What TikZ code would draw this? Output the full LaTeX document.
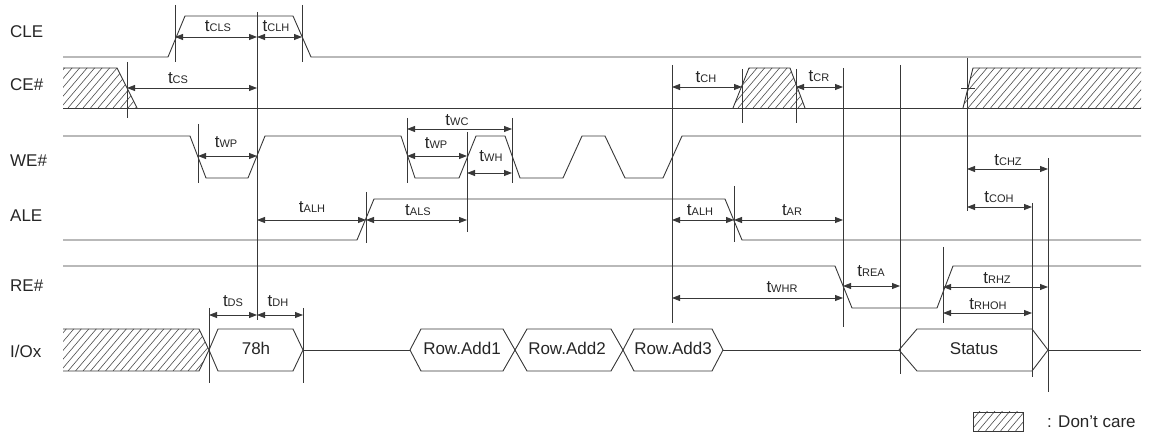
\documentclass[tikz,border=0pt]{standalone}
\usepackage{fontspec}
\setmainfont{Liberation Sans}
\usetikzlibrary{arrows.meta}
\newcommand\tsub[1]{{\fontsize{17}{17}\selectfont t}{\fontsize{11}{11}\selectfont #1}}
\newcommand\hatchregion[4]{%
  \begin{scope}
    \clip #1;
    \foreach \k in {0,...,#3} \draw[hatchline] ({#2-40+7.5*\k},#4) -- ++(40,-47);
  \end{scope}}
\begin{document}
\begin{tikzpicture}[x=1pt,y=-1pt,
  sig/.style={line width=0.9pt,draw=black!78,line join=round},
  vmark/.style={line width=0.8pt,draw=black!78},
  dimarrow/.style={line width=0.8pt,draw=black!78,{Triangle[length=8pt,width=6pt]}-{Triangle[length=8pt,width=6pt]}},
  hatchline/.style={line width=0.6pt,draw=black!70},
  tlab/.style={anchor=base,inner sep=0pt,text=black!85},
  siglab/.style={anchor=base west,inner sep=0pt,font=\fontsize{17}{17}\selectfont,text=black!85},
  datalab/.style={anchor=base,inner sep=0pt,font=\fontsize{17}{17}\selectfont,text=black!85}]

\useasboundingbox (0,0) rectangle (1149,435);

% signal names
\node[siglab] (nCLE) at (10,38) {CLE};
\node[siglab] (nCE) at (10,91) {CE\#};
\node[siglab] (nWE) at (10,167) {WE\#};
\node[siglab] (nALE) at (10,222) {ALE};
\node[siglab] (nRE) at (10,292) {RE\#};
\node[siglab] (nIO) at (10,358) {I/Ox};

% hatch regions
\hatchregion{(63,68)--(117,68)--(137,108)--(63,108)--cycle}{63}{16}{108}
\hatchregion{(733,108)--(749,68)--(790,68)--(805,108)--cycle}{733}{15}{108}
\hatchregion{(963,108)--(973,68)--(1141,68)--(1141,108)--cycle}{963}{29}{108}
\hatchregion{(63,329)--(199,329)--(209,350)--(199,371)--(63,371)--cycle}{63}{25}{371}
\hatchregion{(973,412)--(1023,412)--(1023,431)--(973,431)--cycle}{973}{12}{431}

% CLE
\draw[sig] (63,57) -- (168,57) -- (185,16) -- (293,16) -- (311,57) -- (1141,57);
% CE#
\draw[sig] (63,68) -- (117,68) -- (137,108);
\draw[sig] (63,108) -- (1141,108);
\draw[sig] (733,108) -- (749,68) -- (790,68) -- (805,108);
\draw[sig] (963,108) -- (973,68) -- (1141,68);
\draw[vmark] (961,88) -- (975,88);
% WE#
\draw[sig] (63,136) -- (190,136) -- (206,178) -- (248,178) -- (265,136) -- (401,136)
  -- (415,178) -- (459,178) -- (476,136) -- (505,136) -- (520,178) -- (563,178)
  -- (582,136) -- (605,136) -- (625,178) -- (663,178) -- (682,136) -- (1141,136);
% ALE
\draw[sig] (63,240) -- (357,240) -- (374,199) -- (725,199) -- (742,240) -- (1141,240);
% RE#
\draw[sig] (63,266) -- (835,266) -- (852,308) -- (937,308) -- (953,266) -- (1141,266);
% I/Ox
\draw[sig] (63,329) -- (199,329) -- (209,350) -- (199,371) -- (63,371);
\draw[sig] (209,350) -- (218,329) -- (293,329) -- (303,350) -- (293,371) -- (218,371) -- cycle;
\draw[sig] (303,350) -- (410,350);
\draw[sig] (410,350) -- (421,329) -- (503,329) -- (515,350) -- (503,371) -- (421,371) -- cycle;
\draw[sig] (515,350) -- (527,329) -- (611,329) -- (623,350) -- (611,371) -- (527,371) -- cycle;
\draw[sig] (623,350) -- (634,329) -- (712,329) -- (723,350) -- (712,371) -- (634,371) -- cycle;
\draw[sig] (723,350) -- (899,350);
\draw[sig] (899,350) -- (917,329) -- (1032,329) -- (1048,350) -- (1032,371) -- (917,371) -- cycle;
\draw[sig] (1048,350) -- (1141,350);
\node[datalab] (d78) at (256,355) {78h};
\node[datalab] (dR1) at (462,355) {Row.Add1};
\node[datalab] (dR2) at (567,355) {Row.Add2};
\node[datalab] (dR3) at (673,355) {Row.Add3};
\node[datalab] (dSt) at (974,355) {Status};

% vertical marks
\draw[vmark] (175,5) -- (175,62);
\draw[vmark] (302,5) -- (302,62);
\draw[vmark] (257,12) -- (257,320);
\draw[vmark] (127,62) -- (127,118);
\draw[vmark] (198,124) -- (198,183);
\draw[vmark] (407,118) -- (407,183);
\draw[vmark] (512,118) -- (512,183);
\draw[vmark] (467,132) -- (467,232);
\draw[vmark] (366,192) -- (366,243);
\draw[vmark] (672,65) -- (672,323);
\draw[vmark] (742,69) -- (742,123);
\draw[vmark] (734,186) -- (734,242);
\draw[vmark] (796,69) -- (796,123);
\draw[vmark] (843,68) -- (843,327);
\draw[vmark] (900,65) -- (900,374);
\draw[vmark] (967,58) -- (967,211);
\draw[vmark] (1048,158) -- (1048,392);
\draw[vmark] (1032,203) -- (1032,377);
\draw[vmark] (943,247) -- (943,323);
\draw[vmark] (209,308) -- (209,383);
\draw[vmark] (303,308) -- (303,383);

% timing arrows
\draw[dimarrow] (175,37) -- (257,37);   \node[tlab] (lCLS) at (218,32) {\tsub{CLS}};
\draw[dimarrow] (257,37) -- (302,37);   \node[tlab] (lCLH) at (276,32) {\tsub{CLH}};
\draw[dimarrow] (127,88) -- (257,88);   \node[tlab] (lCS) at (178,84) {\tsub{CS}};
\draw[dimarrow] (672,87) -- (742,87);   \node[tlab] (lCH) at (706,83) {\tsub{CH}};
\draw[dimarrow] (796,87) -- (843,87);   \node[tlab] (lCR) at (819,82) {\tsub{CR}};
\draw[dimarrow] (198,156) -- (257,156); \node[tlab] (lWP) at (226,148) {\tsub{WP}};
\draw[dimarrow] (407,129) -- (512,129); \node[tlab] (lWC) at (457,126) {\tsub{WC}};
\draw[dimarrow] (407,156) -- (467,156); \node[tlab] (lWPb) at (436,149) {\tsub{WP}};
\draw[dimarrow] (467,173) -- (512,173); \node[tlab] (lWH) at (491,162) {\tsub{WH}};
\draw[dimarrow] (257,220) -- (366,220); \node[tlab] (lALH) at (312,213) {\tsub{ALH}};
\draw[dimarrow] (366,220) -- (467,220); \node[tlab] (lALS) at (418,216) {\tsub{ALS}};
\draw[dimarrow] (672,220) -- (734,220); \node[tlab] (lALHb) at (700,216) {\tsub{ALH}};
\draw[dimarrow] (734,220) -- (843,220); \node[tlab] (lAR) at (792,216) {\tsub{AR}};
\draw[dimarrow] (967,169) -- (1048,169); \node[tlab] (lCHZ) at (1008,166) {\tsub{CHZ}};
\draw[dimarrow] (967,207) -- (1032,207); \node[tlab] (lCOH) at (999,203) {\tsub{COH}};
\draw[dimarrow] (672,298) -- (843,298); \node[tlab] (lWHR) at (782,293) {\tsub{WHR}};
\draw[dimarrow] (843,286) -- (900,286); \node[tlab] (lREA) at (871,277) {\tsub{REA}};
\draw[dimarrow] (943,287) -- (1048,287); \node[tlab] (lRHZ) at (997,284) {\tsub{RHZ}};
\draw[dimarrow] (943,313) -- (1032,313); \node[tlab] (lRHOH) at (988,310) {\tsub{RHOH}};
\draw[dimarrow] (209,315) -- (257,315); \node[tlab] (lDS) at (233,307) {\tsub{DS}};
\draw[dimarrow] (257,315) -- (303,315); \node[tlab] (lDH) at (278,307) {\tsub{DH}};

% legend
\draw[vmark] (973,412) rectangle (1023,431);
\node[siglab] (legend) at (1047,428) {: Don’t care};
\end{tikzpicture}
\end{document}
